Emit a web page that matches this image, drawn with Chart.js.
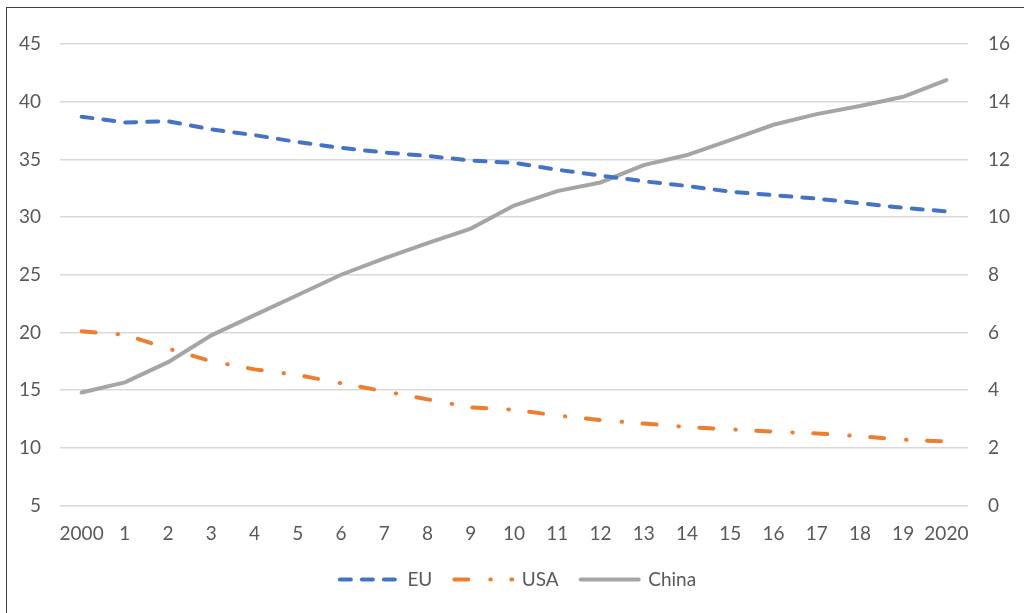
<!DOCTYPE html>
<html>
<head>
<meta charset="utf-8">
<script src="https://cdn.jsdelivr.net/npm/chart.js@4.4.1/dist/chart.umd.min.js"></script>
<style>
  html, body { margin: 0; padding: 0; background: #ffffff; overflow: hidden; }
  #wrap { position: relative; width: 1024px; height: 613px; }
  #frame { position: absolute; left: 6px; top: 7px; width: 1100px; height: 700px;
           border: 1px solid #404040; box-sizing: border-box; pointer-events: none; }
  canvas { position: absolute; left: 0; top: 0; }
</style>
</head>
<body>
<div id="wrap">
  <canvas id="chart" width="1024" height="613"></canvas>
  <div id="frame"></div>
</div>
<script>
// Years along the category axis
const years = ['2000', '1', '2', '3', '4', '5', '6', '7', '8', '9', '10',
               '11', '12', '13', '14', '15', '16', '17', '18', '19', '2020'];

// EU and USA share the left axis
const euValues = [38.7, 38.2, 38.3, 37.6, 37.1, 36.5, 36.0, 35.6, 35.3, 34.9, 34.7,
                  34.1, 33.6, 33.1, 32.7, 32.2, 31.9, 31.6, 31.2, 30.8, 30.5];
const usaValues = [20.1, 19.8, 18.6, 17.5, 16.8, 16.3, 15.6, 14.9, 14.2, 13.5, 13.3,
                   12.8, 12.4, 12.1, 11.8, 11.6, 11.4, 11.25, 11.0, 10.7, 10.55];

// China is read against the right axis
const chinaValues = [3.92, 4.27, 4.97, 5.9, 6.6, 7.3, 8.0, 8.57, 9.1, 9.6, 10.4,
                     10.9, 11.2, 11.8, 12.15, 12.67, 13.2, 13.57, 13.85, 14.17, 14.75];

// Axis ranges and tick steps
const leftTicks = { min: 5, max: 45, step: 5 };
const rightTicks = { min: 0, max: 16, step: 2 };

const textColor = '#595959';
const gridColor = '#D9D9D9';
const baseFont = { family: 'Lato, "Open Sans", sans-serif', size: 19 };

// nudges the legend row sideways after layout
const legendShift = {
  id: 'legendShift',
  afterLayout(c) {
    if (c.legend) { c.legend.left += 6; c.legend.right += 6; }
  }
};

const chart = new Chart(document.getElementById('chart'), {
  type: 'line',
  plugins: [legendShift],
  data: {
    labels: years,
    datasets: [
      {
        label: 'EU',
        data: euValues,
        yAxisID: 'yLeft',
        borderColor: '#4472C4',
        backgroundColor: '#4472C4',
        borderWidth: 4,
        borderDash: [11, 11],
        borderCapStyle: 'round',
        pointRadius: 0,
        tension: 0
      },
      {
        label: 'USA',
        data: usaValues,
        yAxisID: 'yLeft',
        borderColor: '#ED7D31',
        backgroundColor: '#ED7D31',
        borderWidth: 4,
        borderDash: [14, 22, 0.5, 20.5],
        borderCapStyle: 'round',
        pointRadius: 0,
        tension: 0
      },
      {
        label: 'China',
        data: chinaValues,
        yAxisID: 'yRight',
        borderColor: '#A5A5A5',
        backgroundColor: '#A5A5A5',
        borderWidth: 4,
        borderCapStyle: 'round',
        pointRadius: 0,
        tension: 0
      }
    ]
  },
  options: {
    responsive: false,
    animation: false,
    layout: { padding: { top: 44, left: 0, right: 0, bottom: 14 } },
    plugins: {
      tooltip: { enabled: false },
      legend: {
        position: 'bottom',
        labels: {
          color: textColor,
          font: baseFont,
          usePointStyle: true,
          pointStyle: 'line',
          pointStyleWidth: 58,
          boxHeight: 4,
          padding: 22,
          // legend samples reuse each line's own dash pattern and caps
          generateLabels: (c) => {
            const items = Chart.defaults.plugins.legend.labels.generateLabels(c);
            items.forEach((item) => {
              const ds = c.data.datasets[item.datasetIndex];
              item.lineDash = ds.borderDash || [];
              item.lineCap = ds.borderCapStyle || 'butt';
              item.lineWidth = ds.borderWidth;
              item.strokeStyle = ds.borderColor;
            });
            return items;
          }
        }
      }
    },
    scales: {
      x: {
        offset: true,
        grid: { display: false, drawTicks: false },
        border: { display: false },
        ticks: { color: textColor, font: baseFont, padding: 17, maxRotation: 0, autoSkip: false },
        afterFit: (scale) => { scale.height = 42.5; }
      },
      yLeft: {
        position: 'left',
        min: leftTicks.min,
        max: leftTicks.max,
        grid: { color: gridColor, lineWidth: 1.5, drawTicks: false },
        border: { display: false },
        ticks: { stepSize: leftTicks.step, color: textColor, font: baseFont, padding: 19 },
        afterFit: (scale) => { scale.width = 60; }
      },
      yRight: {
        position: 'right',
        min: rightTicks.min,
        max: rightTicks.max,
        grid: { display: false, drawTicks: false },
        border: { display: false },
        ticks: { stepSize: rightTicks.step, color: textColor, font: baseFont, padding: 20 },
        afterFit: (scale) => { scale.width = 56; }
      }
    }
  }
});
</script>
</body>
</html>
